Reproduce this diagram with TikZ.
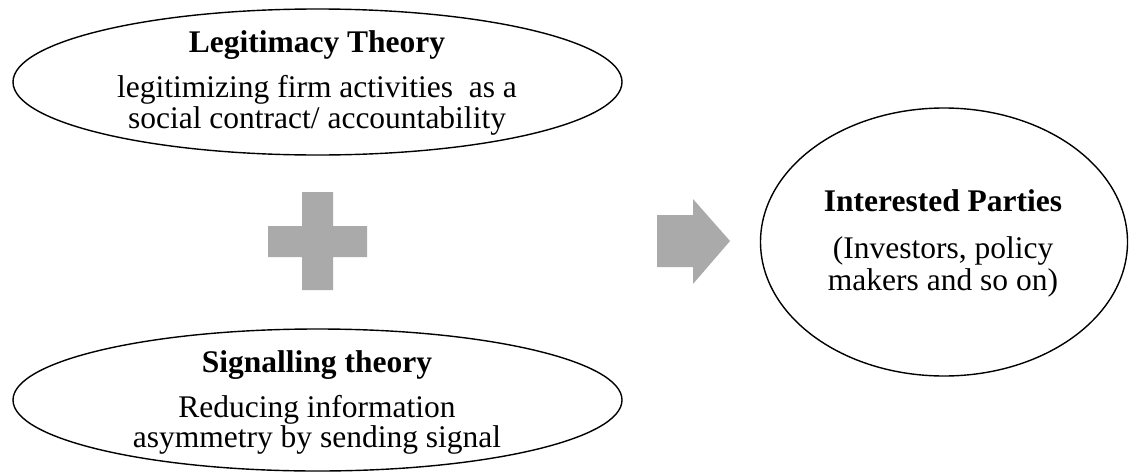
\documentclass[tikz,border=0pt]{standalone}
\usepackage{fontspec}
\setmainfont{Liberation Serif}
\usetikzlibrary{shapes.geometric}
\definecolor{shapegray}{HTML}{AAAAAA}
\tikzset{
  x=1pt, y=-1pt,
  oval/.style={draw=black, line width=1.4pt, ellipse, inner sep=0pt},
  ttl/.style={anchor=base, inner sep=0pt, font=\fontsize{31.5}{32}\selectfont\bfseries},
  txt/.style={anchor=base, inner sep=0pt, font=\fontsize{31.5}{32}\selectfont},
  grayshape/.style={fill=shapegray, draw=none}
}
\begin{document}
\begin{tikzpicture}
\useasboundingbox (0,0) rectangle (1131,471);
% ellipses
\node[oval, minimum width=609pt, minimum height=146pt] (legit) at (317.5,82) {};
\node[oval, minimum width=609pt, minimum height=142pt] (signal) at (317.5,400) {};
\node[oval, minimum width=367pt, minimum height=268pt] (parties) at (944,242) {};
% texts
\node[ttl] (legitT) at (317,52) {Legitimacy Theory};
\node[txt] (legitA) at (317,97) {legitimizing firm activities\ \ as a};
\node[txt] (legitB) at (317,128) {social contract/ accountability};
\node[ttl] (signalT) at (317,372) {Signalling theory};
\node[txt] (signalA) at (317,417) {Reducing information};
\node[txt] (signalB) at (317,447) {asymmetry by sending signal};
\node[ttl] (partiesT) at (943,211) {Interested Parties};
\node[txt] (partiesA) at (943,258) {(Investors, policy};
\node[txt] (partiesB) at (943,290) {makers and so on)};
% plus
\fill[grayshape] (302,192) -- (333,192) -- (333,226) -- (367,226) -- (367,257) -- (333,257) -- (333,290) -- (302,290) -- (302,257) -- (268,257) -- (268,226) -- (302,226) -- cycle;
% arrow
\fill[grayshape] (657,215) -- (693,215) -- (693,199) -- (730,241) -- (693,284) -- (693,267) -- (657,267) -- cycle;
\end{tikzpicture}
\end{document}
